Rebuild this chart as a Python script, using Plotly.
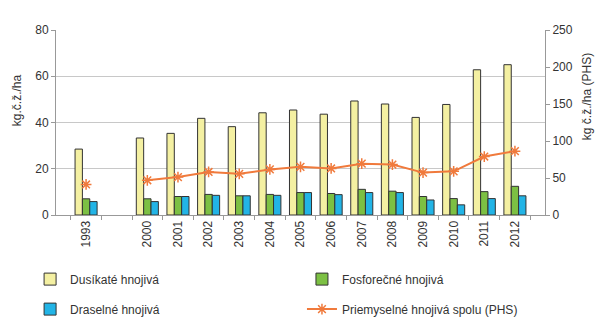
import plotly.graph_objects as go

# roky (prázdny stĺpec medzi 1993 a 2000)
roky = ["1993", " ", "2000", "2001", "2002", "2003", "2004", "2005", "2006",
        "2007", "2008", "2009", "2010", "2011", "2012"]

dusikate = [28.5, None, 33.3, 35.3, 41.8, 38.2, 44.2, 45.4, 43.6, 49.3, 48.0, 42.2, 47.8, 62.8, 65.0]
fosforecne = [7.0, None, 7.0, 8.0, 8.9, 8.3, 8.9, 9.7, 9.3, 11.1, 10.3, 8.0, 7.1, 10.1, 12.4]
draselne = [5.8, None, 5.8, 8.0, 8.5, 8.3, 8.5, 9.7, 8.8, 9.7, 9.7, 6.5, 4.4, 7.1, 8.3]
phs = [41.3, None, 46.9, 51.2, 58.2, 55.6, 61.6, 65.1, 62.9, 69.4, 68.1, 57.3, 59.0, 79.0, 86.3]

obrys = dict(color="#333333", width=1)

fig = go.Figure()
fig.add_trace(go.Bar(x=roky, y=dusikate, name="Dusíkaté hnojivá", legend="legend",
                     legendgroup="a", marker=dict(color="#f4f0a2", line=obrys)))
fig.add_trace(go.Bar(x=roky, y=fosforecne, name="Fosforečné hnojivá", legend="legend2",
                     legendgroup="b", marker=dict(color="#7cc043", line=obrys)))
fig.add_trace(go.Bar(x=roky, y=draselne, name="Draselné hnojivá", legend="legend",
                     legendgroup="c", marker=dict(color="#22b4e6", line=obrys)))
fig.add_trace(go.Scatter(x=roky, y=phs, name="Priemyselné hnojivá spolu (PHS)", yaxis="y2",
                         legend="legend2", legendgroup="d",
                         mode="lines+markers", connectgaps=False,
                         line=dict(color="#f07a3c", width=2),
                         marker=dict(symbol="asterisk-open", size=9,
                                     line=dict(color="#f07a3c", width=1.5))))

leg = dict(orientation="v", yanchor="bottom", xanchor="left", y=-0.587,
           tracegroupgap=11, font=dict(size=12), bgcolor="rgba(0,0,0,0)")

fig.update_layout(
    width=606, height=327,
    margin=dict(l=48, r=69, t=22, b=113),
    paper_bgcolor="white", plot_bgcolor="white",
    font=dict(family="Liberation Sans, Arial", size=12, color="#333333"),
    barmode="group", bargap=0.28, bargroupgap=0,
    xaxis=dict(type="category", categoryorder="array", categoryarray=roky,
               tickangle=-90, showgrid=False, showline=True, linecolor="#999999",
               ticks="outside", tickson="boundaries", ticklen=4, tickcolor="#999999",
               automargin=False),
    yaxis=dict(range=[0, 80], dtick=20, showgrid=True, gridcolor="#c8c8c8",
               showline=True, linecolor="#999999", ticks="outside", ticklen=4,
               tickcolor="#999999", zeroline=False, automargin=False),
    yaxis2=dict(range=[0, 250], dtick=50, overlaying="y", side="right",
                showgrid=False, showline=True, linecolor="#999999", ticks="outside",
                ticklen=4, tickcolor="#999999", zeroline=False, automargin=False),
    legend=dict(leg, x=-0.053),
    legend2=dict(leg, x=0.503),
    annotations=[
        dict(text="kg.č.ž./ha", xref="paper", yref="paper", x=-0.08, y=0.62,
             textangle=-90, showarrow=False, xanchor="center", yanchor="middle",
             font=dict(size=12)),
        dict(text="kg č.ž./ha (PHS)", xref="paper", yref="paper", x=1.085, y=0.64,
             textangle=-90, showarrow=False, xanchor="center", yanchor="middle",
             font=dict(size=12)),
    ],
)

fig.write_html("out.html")
